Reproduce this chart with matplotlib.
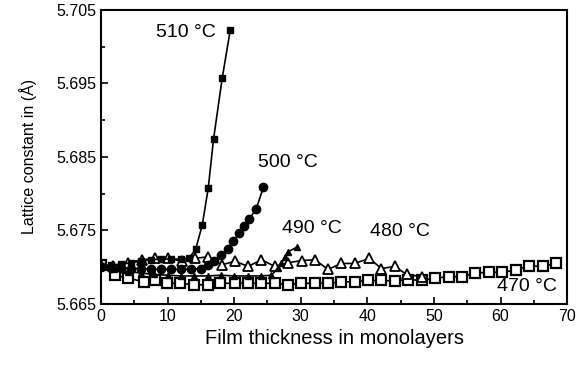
import matplotlib
matplotlib.use('Agg')
import matplotlib.pyplot as plt
from matplotlib.ticker import MultipleLocator

plt.rcParams['font.family'] = ['Liberation Sans', 'DejaVu Sans']

# 510 C (filled squares)
x510 = [0, 1.5, 3, 4.5, 6, 7.5, 9, 10.5, 12, 13.2, 14.2, 15.2, 16.1, 16.9, 18.2, 19.4]
y510 = [5.6702, 5.6703, 5.6704, 5.6706, 5.6708, 5.6710, 5.6711, 5.6711, 5.6711, 5.6712,
        5.6724, 5.6757, 5.6807, 5.6874, 5.6957, 5.7022]

# 500 C (filled circles)
x500 = [0, 1.5, 3, 4.5, 6, 7.5, 9, 10.5, 12, 13.5, 15, 16, 17, 18, 19, 19.8, 20.7, 21.4,
        22.3, 23.3, 24.4]
y500 = [5.6700, 5.6699, 5.6699, 5.6698, 5.6698, 5.6697, 5.6697, 5.6697, 5.6697, 5.6697,
        5.6698, 5.6703, 5.6709, 5.6716, 5.6725, 5.6735, 5.6746, 5.6756, 5.6766, 5.6779,
        5.6809]

# 490 C (filled triangles)
x490 = [0, 2, 4, 6, 8, 10, 12, 14, 16, 18, 20, 22, 24, 25.6, 26.6, 27.1, 27.6, 28.1, 29.4]
y490 = [5.6700, 5.6697, 5.6694, 5.6692, 5.6690, 5.6689, 5.6688, 5.6688, 5.6688, 5.6689,
        5.6688, 5.6688, 5.6688, 5.6689, 5.6699, 5.6705, 5.6714, 5.6721, 5.6727]

# 480 C (open triangles)
x480 = [0, 1.8, 4, 6.1, 8.1, 10.1, 12.1, 14.1, 16.1, 18.1, 20.1, 22.1, 24.1, 26.1, 28.1,
        30.2, 32.1, 34.1, 36.1, 38.1, 40.3, 42.1, 44.1, 45.9, 48.2]
y480 = [5.6703, 5.6701, 5.6706, 5.6710, 5.6712, 5.6712, 5.6708, 5.6712, 5.6714, 5.6703,
        5.6708, 5.6701, 5.6710, 5.6701, 5.6706, 5.6709, 5.6710, 5.6697, 5.6705, 5.6705,
        5.6712, 5.6698, 5.6701, 5.6690, 5.6687]

# 470 C (open squares)
x470 = [0, 2.1, 4.1, 6.4, 8.1, 9.9, 11.9, 13.9, 16.1, 17.9, 20.1, 22.1, 24.1, 26.1, 28.1,
        30.1, 32.1, 34.1, 36.1, 38.1, 40.1, 42.1, 44.1, 46.1, 48.2, 50.2, 52.2, 54.2, 56.2,
        58.3, 60.2, 62.3, 64.2, 66.4, 68.3]
y470 = [5.6703, 5.6689, 5.6685, 5.6680, 5.6683, 5.6678, 5.6678, 5.6676, 5.6676, 5.6678,
        5.6678, 5.6678, 5.6678, 5.6678, 5.6676, 5.6678, 5.6678, 5.6678, 5.6680, 5.6680,
        5.6682, 5.6682, 5.6681, 5.6683, 5.6682, 5.6685, 5.6687, 5.6687, 5.6692, 5.6693,
        5.6693, 5.6696, 5.6702, 5.6701, 5.6705]

yticks = [5.665, 5.675, 5.685, 5.695, 5.705]
ytick_labels = ['5.665', '5.675', '5.685', '5.695', '5.705']
xticks = [0, 10, 20, 30, 40, 50, 60, 70]

labels = ['510 °C', '500 °C', '490 °C', '480 °C', '470 °C']
label_pos = [(12.8, 5.7019), (28.1, 5.6842), (31.7, 5.6753), (44.9, 5.6748), (64.0, 5.6673)]

fig = plt.figure(figsize=(5.77, 3.67), dpi=100)
ax = fig.add_axes([0.175, 0.172, 0.808, 0.801])

ax.plot(x470, y470, color='black', lw=1.2, marker='s', ms=6.5, mfc='white', mec='black', mew=1.6)
ax.plot(x480, y480, color='black', lw=1.2, marker='^', ms=6.5, mfc='white', mec='black', mew=1.3)
ax.plot(x490, y490, color='black', lw=1.2, marker='^', ms=4.5, mfc='black', mec='black')
ax.plot(x500, y500, color='black', lw=1.2, marker='o', ms=6, mfc='black', mec='black')
ax.plot(x510, y510, color='black', lw=1.2, marker='s', ms=4.5, mfc='black', mec='black')

for txt, (tx, ty) in zip(labels, label_pos):
    ax.text(tx, ty, txt, fontsize=14, ha='center', va='center')

ax.set_xlim(0, 70)
ax.set_ylim(5.665, 5.705)
ax.set_xticks(xticks)
ax.xaxis.set_minor_locator(MultipleLocator(5))
ax.set_yticks(yticks)
ax.set_yticklabels(ytick_labels)
ax.yaxis.set_minor_locator(MultipleLocator(0.005))
ax.tick_params(which='both', direction='in', width=1.2, labelsize=11.5)
ax.tick_params(which='major', length=5)
ax.tick_params(which='minor', length=3)
for s in ax.spines.values():
    s.set_linewidth(1.5)

ax.set_xlabel('Film thickness in monolayers', fontsize=14.5, labelpad=4)
ax.set_ylabel('Lattice constant in (Å)', fontsize=11.5, labelpad=14)

fig.savefig('out.png', dpi=100)
